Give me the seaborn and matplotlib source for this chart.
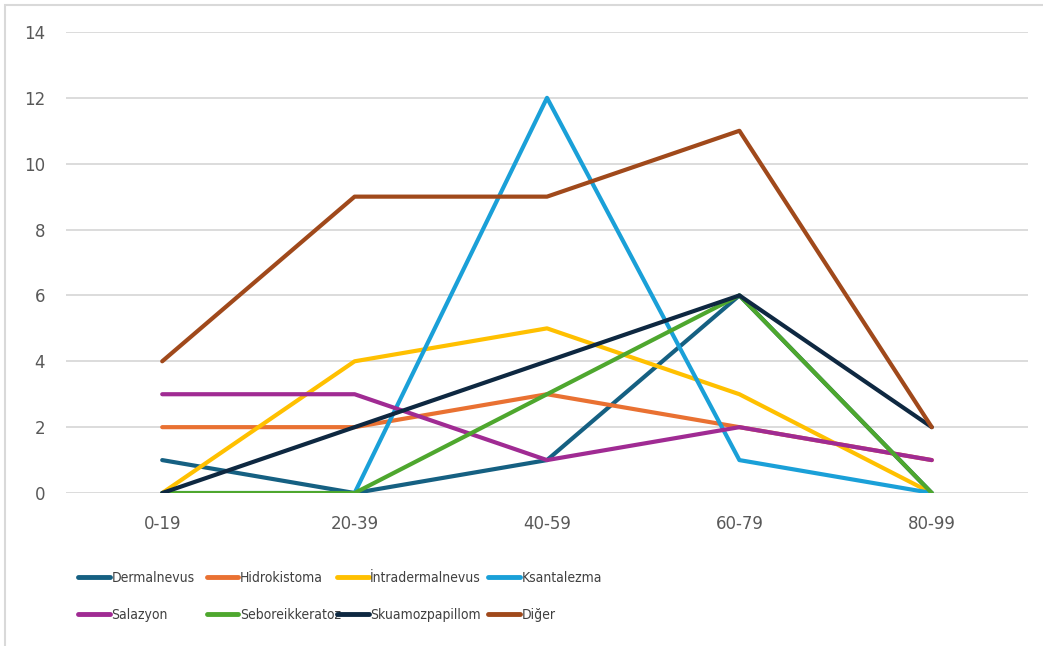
import pandas as pd
import matplotlib.pyplot as plt
import seaborn as sns
from matplotlib.patches import Rectangle

sns.set_theme(style="white")
plt.rcParams['font.family'] = ['DejaVu Sans']

# Data
age_groups = ["0-19", "20-39", "40-59", "60-79", "80-99"]
dermalnevus = [1, 0, 1, 6, 0]
hidrokistoma = [2, 2, 3, 2, 1]
intradermalnevus = [0, 4, 5, 3, 0]
ksantalezma = [0, 0, 12, 1, 0]
salazyon = [3, 3, 1, 2, 1]
seboreikkeratoz = [0, 0, 3, 6, 0]
skuamozpapillom = [0, 2, 4, 6, 2]
diger = [4, 9, 9, 11, 2]

series_names = ["Dermalnevus", "Hidrokistoma", "İntradermalnevus", "Ksantalezma",
                "Salazyon", "Seboreikkeratoz", "Skuamozpapillom", "Diğer"]
series_values = [dermalnevus, hidrokistoma, intradermalnevus, ksantalezma,
                 salazyon, seboreikkeratoz, skuamozpapillom, diger]
colors = ["#156082", "#E97132", "#FFC000", "#1AA0D8",
          "#A02B93", "#4EA72E", "#0E2841", "#A0491B"]

rows = []
for name, vals in zip(series_names, series_values):
    for grp, v in zip(age_groups, vals):
        rows.append({"Yaş": grp, "Sayı": v, "Tanı": name})
df = pd.DataFrame(rows)

fig = plt.figure(figsize=(10.43, 6.46), dpi=100)
ax = fig.add_axes([0.0633, 0.2368, 0.9223, 0.7137])

sns.lineplot(data=df, x="Yaş", y="Sayı", hue="Tanı", hue_order=series_names,
             palette=colors, linewidth=3, ax=ax, sort=False,
             solid_capstyle="round", solid_joinstyle="round")

ax.set_xlim(-0.5, 4.5)
ax.set_ylim(0, 14)
ax.set_yticks(range(0, 15, 2))
ax.grid(axis="y", color="#D9D9D9", linewidth=1.3)
ax.set_axisbelow(True)
for s in ax.spines.values():
    s.set_visible(False)
ax.tick_params(axis="both", length=0, labelsize=12, colors="#595959")
ax.tick_params(axis="x", pad=16)
ax.tick_params(axis="y", pad=15)
ax.set_xlabel("")
ax.set_ylabel("")

handles, labels = ax.get_legend_handles_labels()
ax.get_legend().remove()
for h in handles:
    h.set_linewidth(3.5)
    h.set_solid_capstyle("round")

# legend laid out as 4 columns of 2 rows, like the Excel one
col_x = [0.075, 0.198, 0.323, 0.468]
for c, x0 in enumerate(col_x):
    idx = [c, c + 4]
    fig.legend([handles[i] for i in idx], [labels[i] for i in idx],
               loc="upper left", bbox_to_anchor=(x0, 0.116),
               frameon=False, handlelength=2.3, handletextpad=0.1,
               labelspacing=1.64, borderpad=0, borderaxespad=0,
               prop={"family": ["Liberation Sans Narrow", "DejaVu Sans"],
                     "stretch": "condensed", "size": 10},
               labelcolor="#404040")

fig.patches.append(Rectangle((0.005, -0.01), 1.2, 1.0025, transform=fig.transFigure,
                             fill=False, edgecolor="#D9D9D9", linewidth=1.5))

plt.savefig("out.png", dpi=100)
